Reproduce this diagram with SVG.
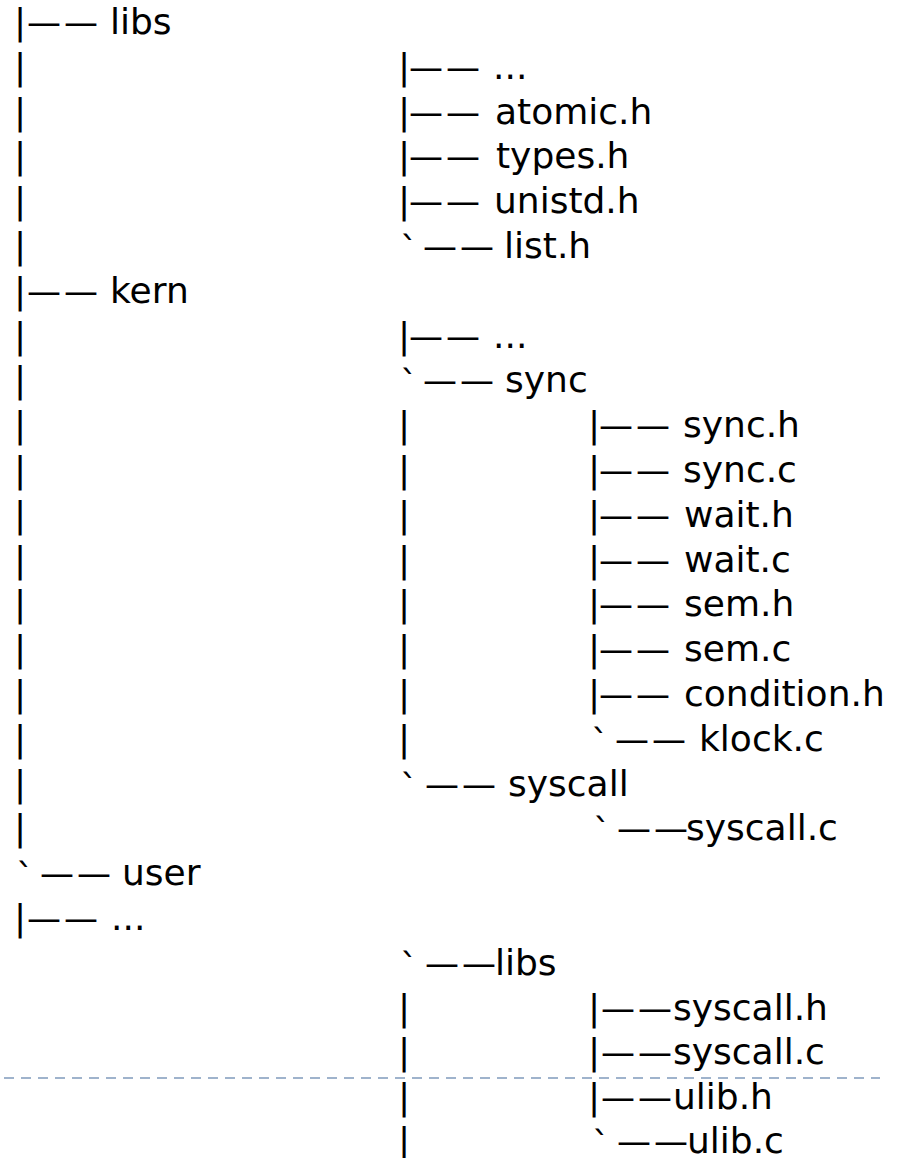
<svg xmlns="http://www.w3.org/2000/svg" width="905" height="1158" viewBox="0 0 905 1158">
<style>
.t{font-family:"DejaVu Sans",Verdana,sans-serif;font-size:36px;fill:#000}
.d{font-family:"DejaVu Sans",Verdana,sans-serif;font-size:34px;letter-spacing:3px;fill:#000}
.g{font-family:"DejaVu Sans",Verdana,sans-serif;font-size:36px;fill:#000}
</style>
<rect width="905" height="1158" fill="#fff"/>
<line x1="4" y1="1078" x2="880" y2="1078" stroke="#9FB3CC" stroke-width="2" stroke-dasharray="10 7"/>
<g id="connectors">
<text class="t" x="14" y="34">|</text><text class="d" x="27" y="34">——</text>
<text class="t" x="14" y="78.8">|</text>
<text class="t" x="14" y="123.6">|</text>
<text class="t" x="14" y="168.4">|</text>
<text class="t" x="14" y="213.2">|</text>
<text class="t" x="14" y="258">|</text>
<text class="t" x="14" y="302.8">|</text><text class="d" x="27" y="302.8">——</text>
<text class="t" x="14" y="347.6">|</text>
<text class="t" x="14" y="392.4">|</text>
<text class="t" x="14" y="437.2">|</text>
<text class="t" x="14" y="482">|</text>
<text class="t" x="14" y="526.8">|</text>
<text class="t" x="14" y="571.6">|</text>
<text class="t" x="14" y="616.4">|</text>
<text class="t" x="14" y="661.2">|</text>
<text class="t" x="14" y="706">|</text>
<text class="t" x="14" y="750.8">|</text>
<text class="t" x="14" y="795.6">|</text>
<text class="t" x="14" y="840.4">|</text>
<text class="g" x="16" y="889.2">`</text><text class="d" x="40" y="885.2">——</text>
<text class="t" x="14" y="930">|</text><text class="d" x="27" y="930">——</text>
<text class="t" x="398" y="78.8">|</text><text class="d" x="409" y="78.8">——</text>
<text class="t" x="398" y="123.6">|</text><text class="d" x="409" y="123.6">——</text>
<text class="t" x="398" y="168.4">|</text><text class="d" x="409" y="168.4">——</text>
<text class="t" x="398" y="213.2">|</text><text class="d" x="409" y="213.2">——</text>
<text class="g" x="400" y="262">`</text><text class="d" x="423" y="258">——</text>
<text class="t" x="398" y="347.6">|</text><text class="d" x="409" y="347.6">——</text>
<text class="g" x="400" y="396.4">`</text><text class="d" x="423" y="392.4">——</text>
<text class="t" x="398" y="437.2">|</text>
<text class="t" x="398" y="482">|</text>
<text class="t" x="398" y="526.8">|</text>
<text class="t" x="398" y="571.6">|</text>
<text class="t" x="398" y="616.4">|</text>
<text class="t" x="398" y="661.2">|</text>
<text class="t" x="398" y="706">|</text>
<text class="t" x="398" y="750.8">|</text>
<text class="g" x="400" y="799.6">`</text><text class="d" x="425" y="795.6">——</text>
<text class="g" x="400" y="978.8">`</text><text class="d" x="425" y="974.8">——</text>
<text class="t" x="398" y="1019.6">|</text>
<text class="t" x="398" y="1064.4">|</text>
<text class="t" x="398" y="1109.2">|</text>
<text class="t" x="398" y="1153">|</text>
<text class="t" x="588" y="437.2">|</text><text class="d" x="599" y="437.2">——</text>
<text class="t" x="588" y="482">|</text><text class="d" x="599" y="482">——</text>
<text class="t" x="588" y="526.8">|</text><text class="d" x="599" y="526.8">——</text>
<text class="t" x="588" y="571.6">|</text><text class="d" x="599" y="571.6">——</text>
<text class="t" x="588" y="616.4">|</text><text class="d" x="599" y="616.4">——</text>
<text class="t" x="588" y="661.2">|</text><text class="d" x="599" y="661.2">——</text>
<text class="t" x="588" y="706">|</text><text class="d" x="599" y="706">——</text>
<text class="g" x="591" y="754.8">`</text><text class="d" x="615" y="750.8">——</text>
<text class="g" x="593" y="844.4">`</text><text class="d" x="617" y="840.4">——</text>
<text class="t" x="588" y="1019.6">|</text><text class="d" x="601" y="1019.6">——</text>
<text class="t" x="588" y="1064.4">|</text><text class="d" x="601" y="1064.4">——</text>
<text class="t" x="588" y="1109.2">|</text><text class="d" x="601" y="1109.2">——</text>
<text class="g" x="592" y="1157">`</text><text class="d" x="617" y="1153">——</text>
</g>
<g id="n-libs"><text class="t" x="110" y="34">libs</text></g>
<g id="n-libs-more"><text class="t" x="493" y="78.8">...</text></g>
<g id="n-atomic"><text class="t" x="495" y="123.6">atomic.h</text></g>
<g id="n-types"><text class="t" x="496" y="168.4">types.h</text></g>
<g id="n-unistd"><text class="t" x="494" y="213.2">unistd.h</text></g>
<g id="n-list"><text class="t" x="504" y="258">list.h</text></g>
<g id="n-kern"><text class="t" x="110" y="302.8">kern</text></g>
<g id="n-kern-more"><text class="t" x="493" y="347.6">...</text></g>
<g id="n-sync"><text class="t" x="505" y="392.4">sync</text></g>
<g id="n-sync-h"><text class="t" x="683" y="437.2">sync.h</text></g>
<g id="n-sync-c"><text class="t" x="683" y="482">sync.c</text></g>
<g id="n-wait-h"><text class="t" x="684" y="526.8">wait.h</text></g>
<g id="n-wait-c"><text class="t" x="684" y="571.6">wait.c</text></g>
<g id="n-sem-h"><text class="t" x="684" y="616.4">sem.h</text></g>
<g id="n-sem-c"><text class="t" x="684" y="661.2">sem.c</text></g>
<g id="n-condition"><text class="t" x="684" y="706">condition.h</text></g>
<g id="n-klock"><text class="t" x="699" y="750.8">klock.c</text></g>
<g id="n-syscall"><text class="t" x="508" y="795.6">syscall</text></g>
<g id="n-syscall-c"><text class="t" x="686" y="840.4">syscall.c</text></g>
<g id="n-user"><text class="t" x="122" y="885.2">user</text></g>
<g id="n-user-more"><text class="t" x="111" y="930">...</text></g>
<g id="n-ulibs"><text class="t" x="495" y="974.8">libs</text></g>
<g id="n-u-syscall-h"><text class="t" x="673" y="1019.6">syscall.h</text></g>
<g id="n-u-syscall-c"><text class="t" x="673" y="1064.4">syscall.c</text></g>
<g id="n-ulib-h"><text class="t" x="673" y="1109.2">ulib.h</text></g>
<g id="n-ulib-c"><text class="t" x="687" y="1153">ulib.c</text></g>
</svg>
